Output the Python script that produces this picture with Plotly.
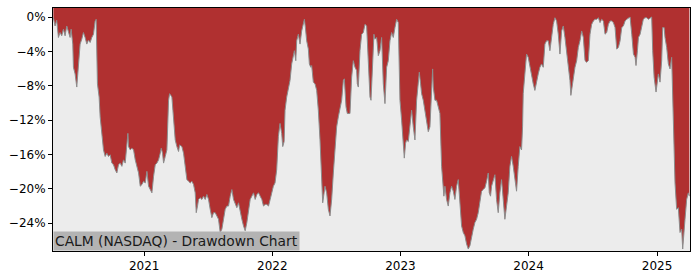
import plotly.graph_objects as go
import pandas as pd

year_pos = [
 2020.293,2020.306,2020.319,2020.332,2020.345,2020.358,2020.371,2020.384,2020.397,2020.410,
 2020.423,2020.431,2020.444,2020.449,2020.462,2020.475,2020.488,2020.501,2020.514,2020.527,
 2020.540,2020.553,2020.566,2020.579,2020.592,2020.605,2020.618,2020.626,2020.636,2020.649,
 2020.657,2020.670,2020.683,2020.696,2020.709,2020.722,2020.735,2020.748,2020.761,2020.774,
 2020.787,2020.800,2020.813,2020.826,2020.839,2020.852,2020.865,2020.873,2020.878,2020.891,
 2020.904,2020.917,2020.930,2020.943,2020.956,2020.969,2020.982,2020.995,2021.008,2021.021,
 2021.034,2021.047,2021.060,2021.073,2021.086,2021.099,2021.112,2021.125,2021.133,2021.143,
 2021.151,2021.164,2021.177,2021.190,2021.198,2021.208,2021.216,2021.224,2021.234,2021.242,
 2021.255,2021.268,2021.276,2021.294,2021.307,2021.320,2021.333,2021.346,2021.359,2021.372,
 2021.385,2021.398,2021.406,2021.416,2021.424,2021.437,2021.450,2021.463,2021.476,2021.489,
 2021.502,2021.515,2021.528,2021.541,2021.554,2021.567,2021.580,2021.593,2021.606,2021.619,
 2021.632,2021.645,2021.658,2021.671,2021.684,2021.697,2021.710,2021.723,2021.736,2021.749,
 2021.762,2021.775,2021.788,2021.801,2021.814,2021.827,2021.840,2021.853,2021.866,2021.879,
 2021.892,2021.905,2021.918,2021.931,2021.944,2021.957,2021.970,2021.983,2021.996,2022.008,
 2022.021,2022.034,2022.047,2022.060,2022.073,2022.081,2022.092,2022.099,2022.112,2022.125,
 2022.138,2022.151,2022.164,2022.172,2022.183,2022.190,2022.203,2022.216,2022.229,2022.242,
 2022.250,2022.258,2022.268,2022.281,2022.289,2022.300,2022.307,2022.320,2022.333,2022.346,
 2022.359,2022.372,2022.385,2022.393,2022.404,2022.411,2022.424,2022.437,2022.450,2022.463,
 2022.476,2022.489,2022.502,2022.515,2022.528,2022.541,2022.554,2022.562,2022.575,2022.585,
 2022.601,2022.606,2022.619,2022.632,2022.645,2022.658,2022.663,2022.671,2022.684,2022.697,
 2022.710,2022.723,2022.736,2022.749,2022.762,2022.770,2022.780,2022.793,2022.801,2022.814,
 2022.827,2022.840,2022.853,2022.866,2022.879,2022.892,2022.905,2022.918,2022.931,2022.944,
 2022.957,2022.970,2022.983,2022.996,2023.009,2023.022,2023.030,2023.040,2023.048,2023.061,
 2023.074,2023.087,2023.100,2023.113,2023.126,2023.139,2023.147,2023.157,2023.165,2023.178,
 2023.191,2023.204,2023.217,2023.230,2023.243,2023.251,2023.256,2023.269,2023.282,2023.295,
 2023.308,2023.321,2023.329,2023.339,2023.347,2023.360,2023.373,2023.386,2023.399,2023.412,
 2023.425,2023.438,2023.451,2023.464,2023.477,2023.490,2023.503,2023.516,2023.529,2023.542,
 2023.555,2023.568,2023.581,2023.594,2023.607,2023.620,2023.633,2023.646,2023.659,2023.672,
 2023.685,2023.693,2023.703,2023.711,2023.724,2023.737,2023.750,2023.763,2023.776,2023.789,
 2023.802,2023.815,2023.828,2023.841,2023.854,2023.867,2023.880,2023.893,2023.906,2023.919,
 2023.932,2023.945,2023.953,2023.958,2023.971,2023.984,2023.997,2024.010,2024.023,2024.036,
 2024.049,2024.062,2024.075,2024.088,2024.101,2024.114,2024.127,2024.140,2024.153,2024.166,
 2024.179,2024.192,2024.205,2024.218,2024.231,2024.244,2024.257,2024.270,2024.283,2024.296,
 2024.309,2024.322,2024.329,2024.340,2024.353,2024.361,2024.374,2024.387,2024.400,2024.413,
 2024.426,2024.439,2024.452,2024.465,2024.478,2024.491,2024.504,2024.517,2024.530,2024.543,
 2024.556,2024.569,2024.582,2024.595,2024.608,2024.621,2024.634,2024.647,2024.660,2024.673,
 2024.686,2024.699,2024.712,2024.725,2024.738,2024.751,2024.764,2024.777,2024.790,2024.803,
 2024.816,2024.829,2024.836,2024.847,2024.855,2024.868,2024.881,2024.893,2024.906,2024.919,
 2024.932,2024.945,2024.958,2024.966,2024.977,2024.992,2025.003,2025.010,2025.023,2025.036,
 2025.044,2025.055,2025.062,2025.075,2025.088,2025.101,2025.114,2025.127,2025.140,2025.153,
 2025.166,2025.179,2025.192,2025.200,2025.205,2025.218,2025.231,2025.244,2025.252,
]

# Drawdown in percent at each point
drawdown_pct = [
 -0.08,-1.04,-0.38,-2.38,-1.81,-2.19,-1.42,-2.19,-1.04,-1.62,
 -2.38,-1.42,-3.15,-5.85,-6.62,-8.15,-5.85,-3.15,-2.58,-1.81,
 -2.38,-3.15,-2.69,-2.96,-2.38,-2.00,-0.46,-0.27,-7.77,-9.31,
 -11.62,-13.54,-15.46,-16.23,-15.85,-16.23,-16.04,-17.00,-17.19,-17.77,
 -18.15,-17.19,-17.00,-17.38,-16.62,-17.00,-14.69,-13.54,-15.08,-15.46,
 -15.27,-15.46,-16.62,-17.38,-18.15,-19.69,-19.50,-19.12,-19.31,-17.96,
 -19.69,-20.08,-20.46,-18.54,-17.19,-17.00,-16.62,-15.85,-15.27,-15.85,
 -17.00,-16.23,-15.46,-9.69,-8.92,-9.12,-9.31,-10.85,-13.15,-14.31,
 -15.08,-15.65,-14.88,-15.08,-15.85,-17.77,-18.92,-19.12,-19.31,-19.12,
 -19.50,-20.46,-22.77,-22.00,-21.23,-21.04,-21.23,-20.85,-21.23,-20.65,
 -21.23,-22.38,-23.35,-22.77,-22.77,-23.15,-23.54,-25.08,-24.69,-23.54,
 -22.38,-22.00,-22.00,-20.85,-20.08,-21.23,-21.62,-22.19,-21.62,-22.77,
 -23.54,-24.31,-24.88,-23.92,-22.77,-21.23,-20.85,-20.46,-21.23,-20.65,
 -20.46,-20.85,-21.23,-22.00,-21.81,-21.81,-22.00,-21.23,-20.46,-19.69,
 -19.31,-17.77,-13.92,-12.38,-13.54,-15.08,-14.50,-10.85,-9.31,-8.35,
 -7.38,-5.46,-4.31,-3.92,-5.08,-2.77,-2.00,-3.15,-1.62,-0.85,
 -0.27,-1.23,-2.77,-3.73,-5.46,-5.85,-5.65,-7.58,-7.77,-8.54,
 -10.85,-14.31,-18.15,-21.62,-20.46,-19.69,-20.46,-22.38,-23.15,-21.23,
 -18.15,-15.08,-12.77,-11.62,-10.46,-9.69,-7.38,-7.19,-10.46,-11.23,
 -11.23,-11.23,-7.00,-5.08,-5.85,-6.23,-7.77,-8.15,-3.92,-2.00,
 -1.81,-0.85,-1.04,-5.85,-9.31,-9.69,-5.85,-2.00,-2.58,-2.38,
 -4.50,-3.92,-2.38,-7.77,-10.08,-5.85,-5.08,-2.77,-1.81,-2.38,
 -1.23,-0.27,-0.65,-9.69,-12.00,-15.08,-16.42,-14.69,-14.31,-14.50,
 -12.77,-10.85,-12.77,-14.31,-9.69,-7.00,-6.42,-7.77,-8.92,-9.69,
 -10.85,-12.00,-13.35,-12.77,-7.38,-6.04,-8.15,-9.69,-9.69,-10.46,
 -11.23,-17.38,-19.31,-20.85,-19.69,-21.23,-22.00,-20.46,-19.69,-20.27,
 -21.23,-19.69,-18.92,-21.23,-24.31,-25.08,-25.46,-26.42,-27.00,-26.62,
 -25.46,-24.69,-23.92,-23.54,-22.77,-21.62,-20.27,-20.08,-19.88,-19.12,
 -18.15,-20.46,-20.85,-19.69,-18.92,-18.35,-21.23,-22.77,-20.46,-18.92,
 -21.23,-23.54,-22.00,-20.46,-17.38,-16.23,-17.38,-18.92,-20.27,-17.38,
 -15.08,-15.46,-12.77,-8.92,-6.23,-4.31,-4.69,-5.85,-7.00,-7.77,
 -8.54,-7.38,-6.62,-5.85,-5.46,-5.85,-3.15,-2.77,-2.77,-3.92,
 -2.38,-0.85,-0.08,-0.46,-2.00,-4.31,-1.62,-1.04,-2.38,-3.92,
 -5.85,-7.38,-9.12,-7.77,-6.42,-5.85,-5.08,-3.54,-2.77,-1.62,
 -2.38,-5.08,-5.27,-5.08,-2.00,-0.85,-0.46,-0.27,-0.27,-0.08,
 -0.65,-0.27,-0.46,-2.00,-1.81,-0.85,-0.46,-0.46,-0.65,-1.23,
 -3.73,-3.54,-2.77,-1.23,-1.04,-0.46,-0.27,-0.08,0.00,-2.00,
 -4.31,-4.69,-5.65,-3.92,-2.38,-2.00,-1.23,-0.27,-0.08,-0.08,
 -0.27,-0.08,0.00,-3.92,-7.00,-8.73,-7.38,-6.62,-7.58,-5.08,
 -1.23,-1.23,-2.38,-3.54,-5.46,-6.04,-4.69,-10.85,-19.31,-22.38,
 -22.19,-25.08,-24.69,-27.00,-25.85,-23.54,-21.23,-20.46,-20.85,
]

y_ticks = [0, -4, -8, -12, -16, -20, -24]
y_tick_labels = ["0%", "\u22124%", "\u22128%", "\u221212%", "\u221216%", "\u221220%", "\u221224%"]
x_tick_years = [2021, 2022, 2023, 2024, 2025]
title_text = "CALM (NASDAQ) - Drawdown Chart"


def to_date(y):
    yr = int(y)
    start = pd.Timestamp(year=yr, month=1, day=1)
    days = (pd.Timestamp(year=yr + 1, month=1, day=1) - start).days
    return start + pd.Timedelta(days=(y - yr) * days)


dates = [to_date(v) for v in year_pos]
y_top = 1.05
y_bottom = -27.23

fig = go.Figure()
fig.add_trace(go.Scatter(
    x=dates, y=[y_top + 2] * len(dates), mode="lines",
    line=dict(width=0, color="rgba(0,0,0,0)"), hoverinfo="skip", showlegend=False,
))
fig.add_trace(go.Scatter(
    x=dates, y=drawdown_pct, mode="lines",
    line=dict(color="#8c8c8c", width=1),
    fill="tonexty", fillcolor="#b03030", showlegend=False,
))

fig.update_layout(
    width=700, height=280,
    margin=dict(l=53, r=10, t=7, b=28),
    paper_bgcolor="white", plot_bgcolor="#ececec",
    font=dict(family="DejaVu Sans", size=12, color="black"),
    showlegend=False,
)
fig.update_xaxes(
    range=[to_date(2020.290), to_date(2025.257)],
    tickvals=[pd.Timestamp(year=y, month=1, day=1) for y in x_tick_years],
    ticktext=[str(y) for y in x_tick_years],
    showgrid=False, zeroline=False,
    showline=True, mirror=True, linecolor="black", linewidth=1,
    ticks="outside", ticklen=4, tickcolor="black",
)
fig.update_yaxes(
    range=[y_bottom, y_top],
    tickvals=y_ticks, ticktext=y_tick_labels,
    showgrid=False, zeroline=False,
    showline=True, mirror=True, linecolor="black", linewidth=1,
    ticks="outside", ticklen=4, tickcolor="black",
)
fig.add_annotation(
    text=title_text, xref="paper", yref="paper", x=0, y=0,
    xanchor="left", yanchor="bottom", showarrow=False,
    bgcolor="#b3b3b3", borderpad=1, font=dict(size=13.8, color="#1a1a1a"),
)

fig.write_html("out.html")
